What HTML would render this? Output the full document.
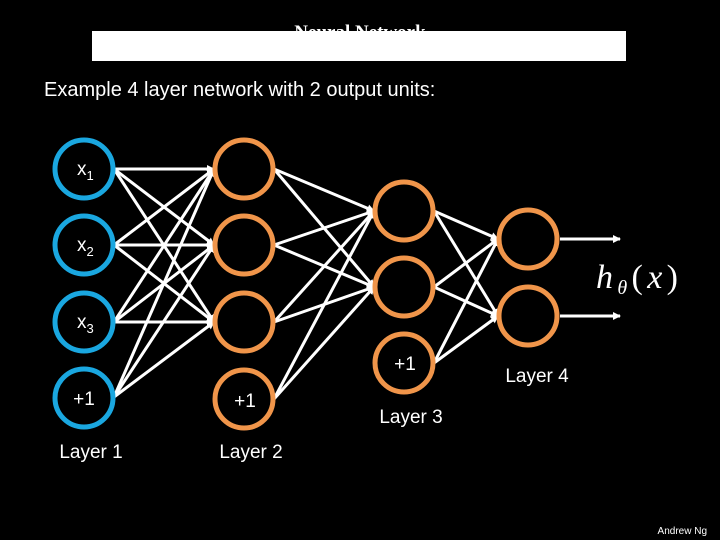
<!DOCTYPE html>
<html><head><meta charset="utf-8"><style>
html,body{margin:0;padding:0;background:#000;}
body{width:720px;height:540px;overflow:hidden;position:relative;}
</style></head><body>
<svg width="720" height="540" xmlns="http://www.w3.org/2000/svg" style="position:absolute;left:0;top:0">
<defs><marker id="a" markerWidth="8" markerHeight="8" refX="7" refY="4" orient="auto" markerUnits="userSpaceOnUse"><path d="M0,0 L8,4 L0,8 z" fill="#fff"/></marker></defs>
<rect width="720" height="540" fill="#000"/>
<text x="360" y="38" text-anchor="middle" font-family="Liberation Serif, serif" font-weight="bold" font-size="19" fill="#fff">Neural Network</text>
<rect x="92" y="31" width="534" height="30" fill="#fff"/>
<text x="44" y="96" font-family="Liberation Sans, sans-serif" font-size="20" fill="#fff">Example 4 layer network with 2 output units:</text>
<g stroke="#fff" stroke-width="3" marker-end="url(#a)">
<line x1="114" y1="169" x2="214" y2="169"/><line x1="114" y1="169" x2="214" y2="245"/><line x1="114" y1="169" x2="214" y2="322"/>
<line x1="114" y1="245" x2="214" y2="169"/><line x1="114" y1="245" x2="214" y2="245"/><line x1="114" y1="245" x2="214" y2="322"/>
<line x1="114" y1="322" x2="214" y2="169"/><line x1="114" y1="322" x2="214" y2="245"/><line x1="114" y1="322" x2="214" y2="322"/>
<line x1="114" y1="397" x2="214" y2="169"/><line x1="114" y1="397" x2="214" y2="245"/><line x1="114" y1="397" x2="214" y2="322"/>
<line x1="274" y1="169" x2="374" y2="211"/><line x1="274" y1="169" x2="374" y2="287"/>
<line x1="274" y1="245" x2="374" y2="211"/><line x1="274" y1="245" x2="374" y2="287"/>
<line x1="274" y1="322" x2="374" y2="211"/><line x1="274" y1="322" x2="374" y2="287"/>
<line x1="274" y1="399" x2="374" y2="211"/><line x1="274" y1="399" x2="374" y2="287"/>
<line x1="434" y1="211" x2="498" y2="239"/><line x1="434" y1="211" x2="498" y2="316"/>
<line x1="434" y1="287" x2="498" y2="239"/><line x1="434" y1="287" x2="498" y2="316"/>
<line x1="434" y1="363" x2="498" y2="239"/><line x1="434" y1="363" x2="498" y2="316"/>
<line x1="560" y1="239" x2="620" y2="239"/><line x1="560" y1="316" x2="620" y2="316"/>
</g>
<g fill="none" stroke-width="5">
<g stroke="#1aa7e0">
<circle cx="84" cy="169" r="29"/><circle cx="84" cy="245" r="29"/><circle cx="84" cy="322" r="29"/><circle cx="84" cy="398" r="29"/>
</g>
<g stroke="#f0954a">
<circle cx="244" cy="169" r="29"/><circle cx="244" cy="245" r="29"/><circle cx="244" cy="322" r="29"/><circle cx="244" cy="399" r="29"/>
<circle cx="404" cy="211" r="29"/><circle cx="404" cy="287" r="29"/><circle cx="404" cy="363" r="29"/>
<circle cx="528" cy="239" r="29"/><circle cx="528" cy="316" r="29"/>
</g>
</g>
<g font-family="Liberation Sans, sans-serif" fill="#fff" font-size="19">
<text x="77" y="175">x<tspan font-size="13" dy="5">1</tspan></text>
<text x="77" y="251">x<tspan font-size="13" dy="5">2</tspan></text>
<text x="77" y="328">x<tspan font-size="13" dy="5">3</tspan></text>
<text x="84" y="405" text-anchor="middle">+1</text>
<text x="245" y="407" text-anchor="middle">+1</text>
<text x="405" y="370" text-anchor="middle">+1</text>
<text x="91" y="458" text-anchor="middle">Layer 1</text>
<text x="251" y="458" text-anchor="middle">Layer 2</text>
<text x="411" y="423" text-anchor="middle">Layer 3</text>
<text x="537" y="382" text-anchor="middle">Layer 4</text>
</g>
<text x="596" y="288" font-family="Liberation Serif, serif" font-style="italic" font-size="34" fill="#fff" textLength="82" lengthAdjust="spacing">h<tspan font-size="20" dy="6">θ</tspan><tspan dy="-6" font-style="normal">(</tspan>x<tspan font-style="normal">)</tspan></text>
<text x="707" y="534" text-anchor="end" font-family="Liberation Sans, sans-serif" font-size="10" fill="#fff">Andrew Ng</text>
</svg>
</body></html>
